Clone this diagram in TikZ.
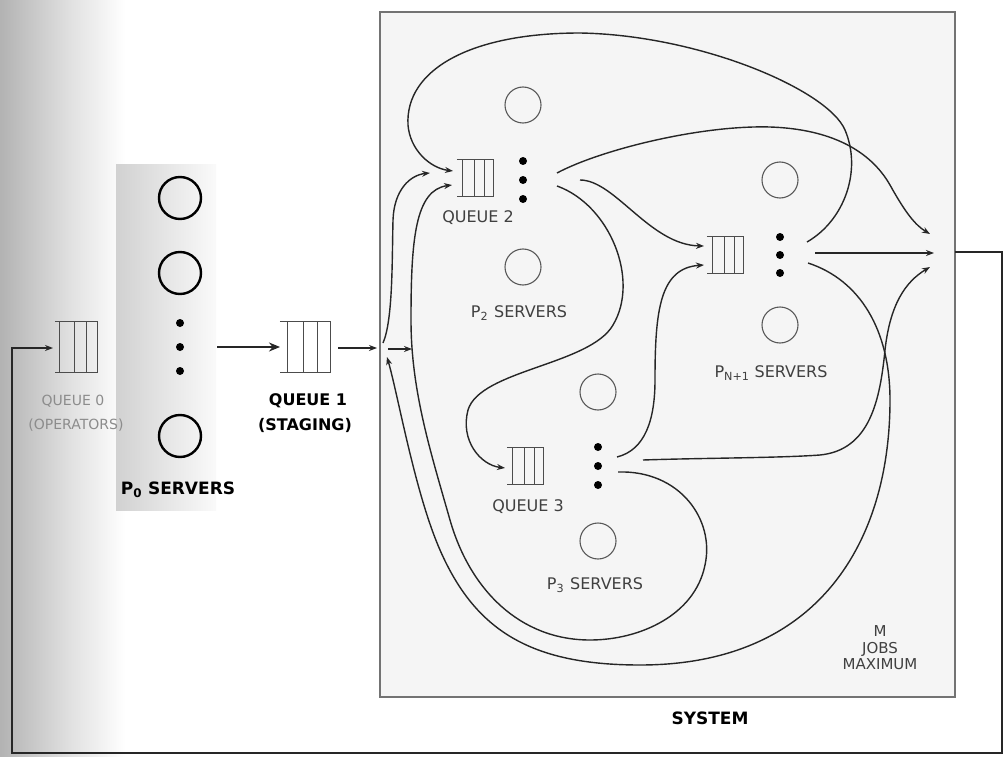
\documentclass[tikz,border=0pt]{standalone}
\usepackage{fontspec}
\setmainfont{DejaVu Sans}
\usetikzlibrary{arrows.meta,calc}
\newcommand\queuelines[2]{% node name, overhang
  \draw[qline] ([xshift=-#2pt]#1.north west) -- (#1.north east) -- (#1.south east) -- ([xshift=-#2pt]#1.south west);
  \foreach \f in {0,0.38,0.7}{\draw[qline] ($(#1.north west)!\f!(#1.north east)$) -- ($(#1.south west)!\f!(#1.south east)$);}
}
\begin{document}
\begin{tikzpicture}[x=1pt,y=-1pt,
  flow/.style={line width=1.4pt, draw=black!85, -{Stealth[length=8pt,width=6pt]}},
  srv/.style={circle, draw=black!65, line width=1.1pt, minimum size=36pt, inner sep=0pt},
  bigsrv/.style={circle, draw=black, line width=2.4pt, minimum size=42pt, inner sep=0pt},
  dotn/.style={circle, fill=black, minimum size=8pt, inner sep=0pt},
  qline/.style={line width=0.9pt, draw=black!70},
  qnode/.style={inner sep=0pt, minimum height=37pt},
  lbl/.style={font=\fontsize{16}{19}\selectfont, text=black!75, inner sep=0pt},
  glbl/.style={font=\fontsize{14}{17}\selectfont, text=black!45, inner sep=0pt},
  blbl/.style={font=\bfseries\fontsize{16}{19}\selectfont, text=black, inner sep=0pt}]
\useasboundingbox (0,0) rectangle (1004,757);
% background
\fill[white] (0,0) rectangle (1004,757);
\shade[left color=black!30, right color=black!12] (0,0) rectangle (70,757);
\shade[left color=black!12, right color=white] (70,0) rectangle (125,757);
\shade[left color=black!18, right color=black!2] (116,165) rectangle (216,510);
% system box
\node (sys) at (667.5,354.5) [draw=black!55, line width=1.6pt, fill=black!4, minimum width=575pt, minimum height=685pt] {};
\node[blbl, font=\bfseries\fontsize{17}{20}\selectfont] (systxt) at (710,718) {SYSTEM};
\node[lbl, align=center, font=\fontsize{15}{16.5}\selectfont] (mjobs) at (880,648) {M\\JOBS\\MAXIMUM};

% queue 0 and operators
\node[qnode, minimum width=37pt, minimum height=50pt] (q0) at (78.5,347) {};
\queuelines{q0}{5}
\node[glbl] (q0t) at (73,401) {QUEUE 0};
\node[glbl] (q0t2) at (76,425) {(OPERATORS)};

% P0 servers
\node[bigsrv] (s0a) at (180,198) {};
\node[bigsrv] (s0b) at (180,273) {};
\node[dotn] (d0a) at (180,323) {};
\node[dotn] (d0b) at (180,347) {};
\node[dotn] (d0c) at (180,371) {};
\node[bigsrv] (s0c) at (180,436) {};
\node[blbl, font=\bfseries\fontsize{17}{20}\selectfont] (p0t) at (178,490) {P\textsubscript{0} SERVERS};

% queue 1
\node[qnode, minimum width=42pt, minimum height=50pt] (q1) at (309,347) {};
\queuelines{q1}{8}
\node[blbl] (q1t) at (308,401) {QUEUE 1};
\node[blbl] (q1t2) at (305,425) {(STAGING)};

% queue 2
\node[qnode, minimum width=30pt] (q2) at (478,178) {};
\queuelines{q2}{6}
\node[srv] (s2a) at (523,105) {};
\node[dotn] (d2a) at (523,161) {};
\node[dotn] (d2b) at (523,180) {};
\node[dotn] (d2c) at (523,199) {};
\node[srv] (s2b) at (523,267) {};
\node[lbl] (q2t) at (478,218) {QUEUE 2};
\node[lbl] (p2t) at (519,313) {P\textsubscript{2}\hspace{6pt}SERVERS};

% queue N+1
\node[qnode, minimum width=30pt] (qn) at (728,255) {};
\queuelines{qn}{6}
\node[srv] (sna) at (780,180) {};
\node[dotn] (dna) at (780,237) {};
\node[dotn] (dnb) at (780,255) {};
\node[dotn] (dnc) at (780,273) {};
\node[srv] (snb) at (780,325) {};
\node[lbl] (pnt) at (771,373) {P\textsubscript{N+1} SERVERS};

% queue 3
\node[qnode, minimum width=30pt] (q3) at (528,466) {};
\queuelines{q3}{6}
\node[srv] (s3a) at (598,392) {};
\node[dotn] (d3a) at (598,447) {};
\node[dotn] (d3b) at (598,466) {};
\node[dotn] (d3c) at (598,485) {};
\node[srv] (s3b) at (598,541) {};
\node[lbl] (q3t) at (528,507) {QUEUE 3};
\node[lbl] (p3t) at (595,585) {P\textsubscript{3}\hspace{6pt}SERVERS};

% connection points
\coordinate (p0out) at (217,347);
\coordinate (q1out) at (338,348);
\coordinate (jin) at (377,348);
\coordinate (js0) at (388,349);
\coordinate (js1) at (412,349);
\coordinate (jup) at (383,343);
\coordinate (jret) at (387,357);
\coordinate (q2in0) at (430,173);
\coordinate (q2in1) at (453,171);
\coordinate (q2in2) at (452,185);
\coordinate (q2o1) at (557,173);
\coordinate (q2o2) at (580,180);
\coordinate (q2o3) at (557,186);
\coordinate (qnin1) at (704,246);
\coordinate (qnin2) at (704,265);
\coordinate (qno1) at (807,242);
\coordinate (qno2) at (815,253);
\coordinate (qno3) at (808,263);
\coordinate (q3in) at (505,468);
\coordinate (q3o1) at (617,457);
\coordinate (q3o2) at (643,460);
\coordinate (q3o3) at (618,472);
\coordinate (sk1) at (930,234);
\coordinate (sk2) at (934,253);
\coordinate (sk3) at (930,267);
\coordinate (exit) at (955,252);
\coordinate (rt) at (1002,252);
\coordinate (rb) at (1002,753);
\coordinate (lb) at (12,753);
\coordinate (lt) at (12,348);
\coordinate (q0in) at (53,348);

% left part
\draw[flow, line width=2.4pt, -{Stealth[length=11pt,width=9pt]}] (p0out) -- (q1.west -| 280,347);
\draw[flow] (q1out) -- (jin);
\draw[flow] (js0) -- (js1);
\draw[flow] (exit) -- (rt) -- (rb) -- (lb) -- (lt) -- (q0in);

% junction up to queue 2
\draw[flow] (jup) .. controls (393,320) and (392,260) .. (393,220) .. controls (394,190) and (410,175) .. (q2in0);
% top loop: N+1 back to queue 2
\draw[flow] (qno1) .. controls (845,220) and (862,170) .. (845,130) .. controls (828,90) and (700,35) .. (580,33) .. controls (470,33) and (405,70) .. (408,125) .. controls (410,150) and (430,168) .. (q2in1);
% queue 2 to sink
\draw[flow] (q2o1) .. controls (600,150) and (700,125) .. (770,127) .. controls (830,129) and (870,150) .. (890,185) .. controls (905,212) and (915,225) .. (sk1);
% queue 2 to queue N+1
\draw[flow] (q2o2) .. controls (615,180) and (650,245) .. (qnin1);
% queue 2 to queue 3
\draw[flow] (q2o3) .. controls (610,205) and (640,280) .. (613,325) .. controls (590,365) and (480,370) .. (468,410) .. controls (460,440) and (480,465) .. (q3in);
% queue N+1 to sink
\draw[flow] (qno2) -- (sk2);
% queue 3 to queue N+1
\draw[flow] (q3o1) .. controls (645,450) and (655,420) .. (655,380) .. controls (655,310) and (660,268) .. (qnin2);
% queue 3 to sink
\draw[flow] (q3o2) .. controls (700,458) and (780,458) .. (820,455) .. controls (870,450) and (880,400) .. (885,350) .. controls (890,305) and (905,282) .. (sk3);
% inner loop: queue 3 back to queue 2
\draw[flow] (q3o3) .. controls (680,470) and (715,520) .. (705,565) .. controls (695,615) and (640,640) .. (590,640) .. controls (520,640) and (470,590) .. (450,520) .. controls (430,450) and (411,390) .. (411,320) .. controls (411,240) and (415,190) .. (q2in2);
% outer loop: queue N+1 back to junction
\draw[flow] (qno3) .. controls (860,280) and (890,330) .. (890,400) .. controls (890,540) and (820,665) .. (640,665) .. controls (530,665) and (475,630) .. (440,550) .. controls (415,493) and (398,395) .. (jret);
\end{tikzpicture}
\end{document}
